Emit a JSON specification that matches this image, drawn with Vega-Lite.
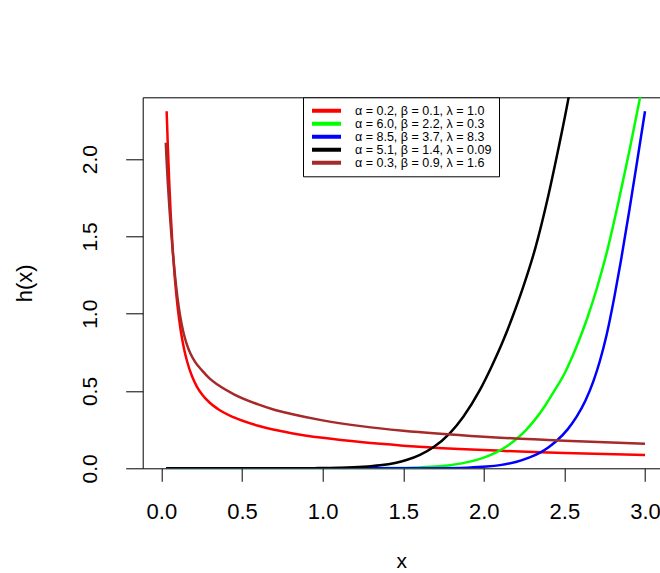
{
  "$schema": "https://vega.github.io/schema/vega-lite/v6.json",
  "width": 517.3,
  "height": 371,
  "autosize": {"type": "none"},
  "padding": {"left": 142.7, "top": 97.3, "right": 0, "bottom": 104.7},
  "background": "white",
  "config": {
    "view": {"stroke": null},
    "font": "Liberation Sans",
    "axis": {"grid": false, "domainColor": "black", "tickColor": "black", "labelColor": "black", "titleColor": "black", "titleFontWeight": "normal", "domainWidth": 1, "tickWidth": 1}
  },
  "datasets": {
    "curves": [
      {"series": "α = 0.2, β = 0.1, λ = 1.0", "x": 0.0325, "h": 2.31},
      {"series": "α = 0.2, β = 0.1, λ = 1.0", "x": 0.034, "h": 2.266},
      {"series": "α = 0.2, β = 0.1, λ = 1.0", "x": 0.04, "h": 2.082},
      {"series": "α = 0.2, β = 0.1, λ = 1.0", "x": 0.048, "h": 1.866},
      {"series": "α = 0.2, β = 0.1, λ = 1.0", "x": 0.058, "h": 1.641},
      {"series": "α = 0.2, β = 0.1, λ = 1.0", "x": 0.07, "h": 1.422},
      {"series": "α = 0.2, β = 0.1, λ = 1.0", "x": 0.085, "h": 1.21},
      {"series": "α = 0.2, β = 0.1, λ = 1.0", "x": 0.1, "h": 1.049},
      {"series": "α = 0.2, β = 0.1, λ = 1.0", "x": 0.12, "h": 0.89},
      {"series": "α = 0.2, β = 0.1, λ = 1.0", "x": 0.14, "h": 0.775},
      {"series": "α = 0.2, β = 0.1, λ = 1.0", "x": 0.16, "h": 0.689},
      {"series": "α = 0.2, β = 0.1, λ = 1.0", "x": 0.19, "h": 0.595},
      {"series": "α = 0.2, β = 0.1, λ = 1.0", "x": 0.22, "h": 0.529},
      {"series": "α = 0.2, β = 0.1, λ = 1.0", "x": 0.25, "h": 0.481},
      {"series": "α = 0.2, β = 0.1, λ = 1.0", "x": 0.3, "h": 0.424},
      {"series": "α = 0.2, β = 0.1, λ = 1.0", "x": 0.35, "h": 0.384},
      {"series": "α = 0.2, β = 0.1, λ = 1.0", "x": 0.45, "h": 0.329},
      {"series": "α = 0.2, β = 0.1, λ = 1.0", "x": 0.6, "h": 0.275},
      {"series": "α = 0.2, β = 0.1, λ = 1.0", "x": 0.7, "h": 0.2488},
      {"series": "α = 0.2, β = 0.1, λ = 1.0", "x": 0.8, "h": 0.2288},
      {"series": "α = 0.2, β = 0.1, λ = 1.0", "x": 1.0, "h": 0.197},
      {"series": "α = 0.2, β = 0.1, λ = 1.0", "x": 1.25, "h": 0.1678},
      {"series": "α = 0.2, β = 0.1, λ = 1.0", "x": 1.5, "h": 0.1466},
      {"series": "α = 0.2, β = 0.1, λ = 1.0", "x": 2.0, "h": 0.1178},
      {"series": "α = 0.2, β = 0.1, λ = 1.0", "x": 2.5, "h": 0.0992},
      {"series": "α = 0.2, β = 0.1, λ = 1.0", "x": 3.0, "h": 0.0862},

      {"series": "α = 6.0, β = 2.2, λ = 0.3", "x": 0.03, "h": 0},
      {"series": "α = 6.0, β = 2.2, λ = 0.3", "x": 0.6, "h": 0},
      {"series": "α = 6.0, β = 2.2, λ = 0.3", "x": 1.0, "h": 0.0001},
      {"series": "α = 6.0, β = 2.2, λ = 0.3", "x": 1.2, "h": 0.0003},
      {"series": "α = 6.0, β = 2.2, λ = 0.3", "x": 1.4, "h": 0.0013},
      {"series": "α = 6.0, β = 2.2, λ = 0.3", "x": 1.55, "h": 0.004},
      {"series": "α = 6.0, β = 2.2, λ = 0.3", "x": 1.7, "h": 0.0115},
      {"series": "α = 6.0, β = 2.2, λ = 0.3", "x": 1.8, "h": 0.022},
      {"series": "α = 6.0, β = 2.2, λ = 0.3", "x": 1.914, "h": 0.043},
      {"series": "α = 6.0, β = 2.2, λ = 0.3", "x": 2.0, "h": 0.069},
      {"series": "α = 6.0, β = 2.2, λ = 0.3", "x": 2.08, "h": 0.105},
      {"series": "α = 6.0, β = 2.2, λ = 0.3", "x": 2.15, "h": 0.148},
      {"series": "α = 6.0, β = 2.2, λ = 0.3", "x": 2.204, "h": 0.191},
      {"series": "α = 6.0, β = 2.2, λ = 0.3", "x": 2.26, "h": 0.246},
      {"series": "α = 6.0, β = 2.2, λ = 0.3", "x": 2.32, "h": 0.318},
      {"series": "α = 6.0, β = 2.2, λ = 0.3", "x": 2.38, "h": 0.405},
      {"series": "α = 6.0, β = 2.2, λ = 0.3", "x": 2.431, "h": 0.49},
      {"series": "α = 6.0, β = 2.2, λ = 0.3", "x": 2.5, "h": 0.612},
      {"series": "α = 6.0, β = 2.2, λ = 0.3", "x": 2.576, "h": 0.79},
      {"series": "α = 6.0, β = 2.2, λ = 0.3", "x": 2.64, "h": 0.966},
      {"series": "α = 6.0, β = 2.2, λ = 0.3", "x": 2.70, "h": 1.16},
      {"series": "α = 6.0, β = 2.2, λ = 0.3", "x": 2.77, "h": 1.426},
      {"series": "α = 6.0, β = 2.2, λ = 0.3", "x": 2.834, "h": 1.717},
      {"series": "α = 6.0, β = 2.2, λ = 0.3", "x": 2.9, "h": 2.038},
      {"series": "α = 6.0, β = 2.2, λ = 0.3", "x": 2.969, "h": 2.397},
      {"series": "α = 6.0, β = 2.2, λ = 0.3", "x": 3.0, "h": 2.567},

      {"series": "α = 8.5, β = 3.7, λ = 8.3", "x": 0.03, "h": 0},
      {"series": "α = 8.5, β = 3.7, λ = 8.3", "x": 1.0, "h": 0},
      {"series": "α = 8.5, β = 3.7, λ = 8.3", "x": 1.5, "h": 0.0001},
      {"series": "α = 8.5, β = 3.7, λ = 8.3", "x": 1.7, "h": 0.0007},
      {"series": "α = 8.5, β = 3.7, λ = 8.3", "x": 1.9, "h": 0.0042},
      {"series": "α = 8.5, β = 3.7, λ = 8.3", "x": 2.018, "h": 0.011},
      {"series": "α = 8.5, β = 3.7, λ = 8.3", "x": 2.1, "h": 0.0205},
      {"series": "α = 8.5, β = 3.7, λ = 8.3", "x": 2.204, "h": 0.0424},
      {"series": "α = 8.5, β = 3.7, λ = 8.3", "x": 2.28, "h": 0.0685},
      {"series": "α = 8.5, β = 3.7, λ = 8.3", "x": 2.349, "h": 0.102},
      {"series": "α = 8.5, β = 3.7, λ = 8.3", "x": 2.4, "h": 0.135},
      {"series": "α = 8.5, β = 3.7, λ = 8.3", "x": 2.452, "h": 0.178},
      {"series": "α = 8.5, β = 3.7, λ = 8.3", "x": 2.52, "h": 0.252},
      {"series": "α = 8.5, β = 3.7, λ = 8.3", "x": 2.576, "h": 0.334},
      {"series": "α = 8.5, β = 3.7, λ = 8.3", "x": 2.63, "h": 0.437},
      {"series": "α = 8.5, β = 3.7, λ = 8.3", "x": 2.68, "h": 0.564},
      {"series": "α = 8.5, β = 3.7, λ = 8.3", "x": 2.72, "h": 0.694},
      {"series": "α = 8.5, β = 3.7, λ = 8.3", "x": 2.762, "h": 0.864},
      {"series": "α = 8.5, β = 3.7, λ = 8.3", "x": 2.81, "h": 1.109},
      {"series": "α = 8.5, β = 3.7, λ = 8.3", "x": 2.85, "h": 1.339},
      {"series": "α = 8.5, β = 3.7, λ = 8.3", "x": 2.9, "h": 1.652},
      {"series": "α = 8.5, β = 3.7, λ = 8.3", "x": 2.95, "h": 1.978},
      {"series": "α = 8.5, β = 3.7, λ = 8.3", "x": 3.0, "h": 2.31},

      {"series": "α = 5.1, β = 1.4, λ = 0.09", "x": 0.03, "h": 0},
      {"series": "α = 5.1, β = 1.4, λ = 0.09", "x": 0.6, "h": 0},
      {"series": "α = 5.1, β = 1.4, λ = 0.09", "x": 0.8, "h": 0.0002},
      {"series": "α = 5.1, β = 1.4, λ = 0.09", "x": 0.95, "h": 0.00094},
      {"series": "α = 5.1, β = 1.4, λ = 0.09", "x": 1.1, "h": 0.0031},
      {"series": "α = 5.1, β = 1.4, λ = 0.09", "x": 1.25, "h": 0.0093},
      {"series": "α = 5.1, β = 1.4, λ = 0.09", "x": 1.356, "h": 0.0191},
      {"series": "α = 5.1, β = 1.4, λ = 0.09", "x": 1.45, "h": 0.0349},
      {"series": "α = 5.1, β = 1.4, λ = 0.09", "x": 1.52, "h": 0.0535},
      {"series": "α = 5.1, β = 1.4, λ = 0.09", "x": 1.604, "h": 0.087},
      {"series": "α = 5.1, β = 1.4, λ = 0.09", "x": 1.687, "h": 0.136},
      {"series": "α = 5.1, β = 1.4, λ = 0.09", "x": 1.79, "h": 0.228},
      {"series": "α = 5.1, β = 1.4, λ = 0.09", "x": 1.873, "h": 0.334},
      {"series": "α = 5.1, β = 1.4, λ = 0.09", "x": 1.976, "h": 0.507},
      {"series": "α = 5.1, β = 1.4, λ = 0.09", "x": 2.05, "h": 0.662},
      {"series": "α = 5.1, β = 1.4, λ = 0.09", "x": 2.121, "h": 0.828},
      {"series": "α = 5.1, β = 1.4, λ = 0.09", "x": 2.18, "h": 0.985},
      {"series": "α = 5.1, β = 1.4, λ = 0.09", "x": 2.245, "h": 1.175},
      {"series": "α = 5.1, β = 1.4, λ = 0.09", "x": 2.32, "h": 1.426},
      {"series": "α = 5.1, β = 1.4, λ = 0.09", "x": 2.4, "h": 1.763},
      {"series": "α = 5.1, β = 1.4, λ = 0.09", "x": 2.46, "h": 2.054},
      {"series": "α = 5.1, β = 1.4, λ = 0.09", "x": 2.528, "h": 2.41},
      {"series": "α = 5.1, β = 1.4, λ = 0.09", "x": 2.6, "h": 2.87},

      {"series": "α = 0.3, β = 0.9, λ = 1.6", "x": 0.027, "h": 2.106},
      {"series": "α = 0.3, β = 0.9, λ = 1.6", "x": 0.033, "h": 1.975},
      {"series": "α = 0.3, β = 0.9, λ = 1.6", "x": 0.04, "h": 1.843},
      {"series": "α = 0.3, β = 0.9, λ = 1.6", "x": 0.05, "h": 1.678},
      {"series": "α = 0.3, β = 0.9, λ = 1.6", "x": 0.06, "h": 1.535},
      {"series": "α = 0.3, β = 0.9, λ = 1.6", "x": 0.072, "h": 1.384},
      {"series": "α = 0.3, β = 0.9, λ = 1.6", "x": 0.085, "h": 1.24},
      {"series": "α = 0.3, β = 0.9, λ = 1.6", "x": 0.1, "h": 1.103},
      {"series": "α = 0.3, β = 0.9, λ = 1.6", "x": 0.115, "h": 0.994},
      {"series": "α = 0.3, β = 0.9, λ = 1.6", "x": 0.135, "h": 0.886},
      {"series": "α = 0.3, β = 0.9, λ = 1.6", "x": 0.155, "h": 0.809},
      {"series": "α = 0.3, β = 0.9, λ = 1.6", "x": 0.18, "h": 0.742},
      {"series": "α = 0.3, β = 0.9, λ = 1.6", "x": 0.21, "h": 0.687},
      {"series": "α = 0.3, β = 0.9, λ = 1.6", "x": 0.25, "h": 0.635},
      {"series": "α = 0.3, β = 0.9, λ = 1.6", "x": 0.3, "h": 0.5806},
      {"series": "α = 0.3, β = 0.9, λ = 1.6", "x": 0.35, "h": 0.54},
      {"series": "α = 0.3, β = 0.9, λ = 1.6", "x": 0.45, "h": 0.4787},
      {"series": "α = 0.3, β = 0.9, λ = 1.6", "x": 0.6, "h": 0.4133},
      {"series": "α = 0.3, β = 0.9, λ = 1.6", "x": 0.7, "h": 0.379},
      {"series": "α = 0.3, β = 0.9, λ = 1.6", "x": 0.8, "h": 0.3528},
      {"series": "α = 0.3, β = 0.9, λ = 1.6", "x": 1.0, "h": 0.31},
      {"series": "α = 0.3, β = 0.9, λ = 1.6", "x": 1.25, "h": 0.2712},
      {"series": "α = 0.3, β = 0.9, λ = 1.6", "x": 1.5, "h": 0.2431},
      {"series": "α = 0.3, β = 0.9, λ = 1.6", "x": 2.0, "h": 0.2046},
      {"series": "α = 0.3, β = 0.9, λ = 1.6", "x": 2.5, "h": 0.1781},
      {"series": "α = 0.3, β = 0.9, λ = 1.6", "x": 3.0, "h": 0.1582}
    ]
  },
  "data": {"name": "curves"},
  "layer": [
    {
      "mark": {"type": "line", "clip": true, "strokeWidth": 2.5, "interpolate": "monotone"},
      "encoding": {
        "x": {
          "field": "x", "type": "quantitative",
          "scale": {"domain": [-0.116, 3.093], "nice": false, "zero": false},
          "axis": {"orient": "bottom", "values": [0, 0.5, 1, 1.5, 2, 2.5, 3], "format": ".1f", "labelFontSize": 22, "tickSize": 13, "labelPadding": 20, "title": "x", "titleFontSize": 21, "titlePadding": 28, "labelFlush": false, "labelOverlap": false}
        },
        "y": {
          "field": "h", "type": "quantitative",
          "scale": {"domain": [0, 2.4], "nice": false, "zero": false},
          "axis": {"values": [0, 0.5, 1, 1.5, 2], "format": ".1f", "labelAngle": -90, "labelAlign": "center", "labelBaseline": "bottom", "labelFontSize": 21, "tickSize": 17, "labelPadding": 25, "title": "h(x)", "titleFontSize": 22, "titlePadding": 43, "labelFlush": false, "labelOverlap": false}
        },
        "color": {
          "field": "series", "type": "nominal",
          "scale": {
            "domain": ["α = 0.2, β = 0.1, λ = 1.0", "α = 6.0, β = 2.2, λ = 0.3", "α = 8.5, β = 3.7, λ = 8.3", "α = 5.1, β = 1.4, λ = 0.09", "α = 0.3, β = 0.9, λ = 1.6"],
            "range": ["#FF0000", "#00FF00", "#0000FF", "#000000", "#A52A2A"]
          },
          "legend": {"orient": "none", "legendX": 160.3, "legendY": 0, "title": null, "symbolType": "stroke", "symbolSize": 841, "symbolStrokeWidth": 4, "clipHeight": 13, "rowPadding": 0, "padding": 7, "labelFontSize": 12.5, "labelOffset": 12, "labelLimit": 400, "strokeColor": "black", "fillColor": "white"}
        }
      }
    },
    {
      "mark": {"type": "point", "opacity": 0},
      "encoding": {
        "x": {"field": "x", "type": "quantitative", "axis": {"orient": "top", "labels": false, "ticks": false, "title": null, "domain": true}}
      }
    }
  ],
  "resolve": {"axis": {"x": "independent"}}
}
